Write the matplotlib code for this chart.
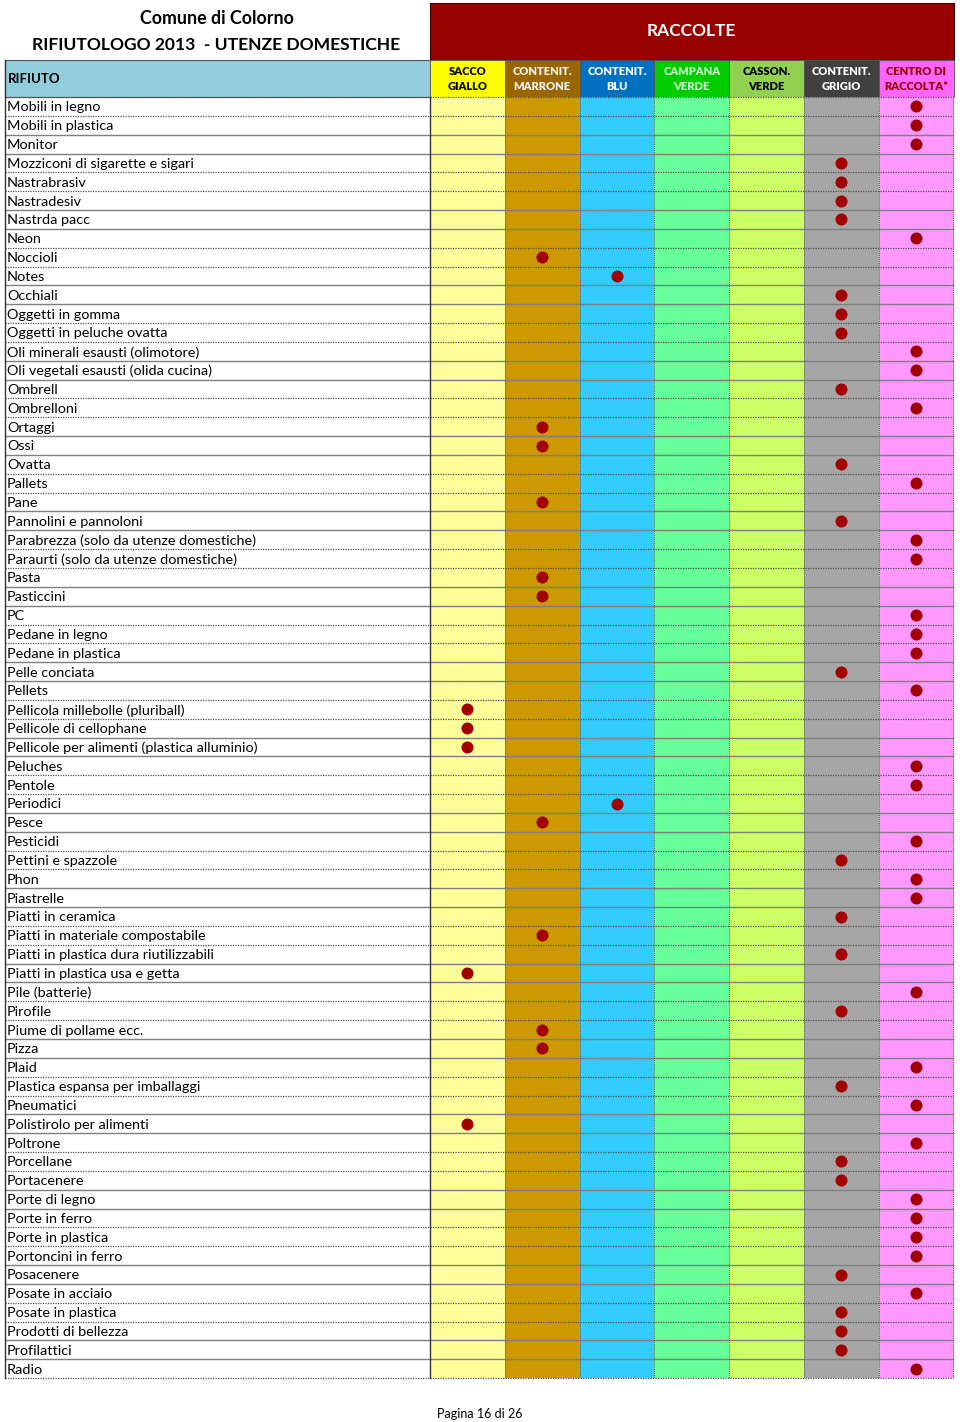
import matplotlib
matplotlib.use("Agg")
import matplotlib.pyplot as plt

plt.rcParams['font.family'] = ['Lato', 'DejaVu Sans']

# colonne raccolta
col_labels = ["SACCO\nGIALLO", "CONTENIT.\nMARRONE", "CONTENIT.\nBLU", "CAMPANA\nVERDE",
              "CASSON.\nVERDE", "CONTENIT.\nGRIGIO", "CENTRO DI\nRACCOLTA*"]
head_colors = ["#FFFF00", "#996600", "#0070C0", "#00CC00", "#92D050", "#404040", "#FF66FF"]
head_text = ["#000000", "#F2F2F2", "#FFFFFF", "#CCFFCC", "#000000", "#FFFFFF", "#990000"]
body_colors = ["#FFFF99", "#CC9900", "#33CCFF", "#66FF99", "#CCFF66", "#A6A6A6", "#FF99FF"]

# rifiuti e colonna di conferimento (0=giallo 1=marrone 2=blu 5=grigio 6=centro)
rifiuti = [
    "Mobili in legno", "Mobili in plastica", "Monitor", "Mozziconi di sigarette e sigari",
    "Nastrabrasiv", "Nastradesiv", "Nastrda pacc", "Neon", "Noccioli", "Notes",
    "Occhiali", "Oggetti in gomma", "Oggetti in peluche ovatta",
    "Oli minerali esausti (olimotore)", "Oli vegetali esausti (olida cucina)",
    "Ombrell", "Ombrelloni", "Ortaggi", "Ossi", "Ovatta", "Pallets", "Pane",
    "Pannolini e pannoloni", "Parabrezza (solo da utenze domestiche)",
    "Paraurti (solo da utenze domestiche)", "Pasta", "Pasticcini", "PC",
    "Pedane in legno", "Pedane in plastica", "Pelle conciata", "Pellets",
    "Pellicola millebolle (pluriball)", "Pellicole di cellophane",
    "Pellicole per alimenti (plastica alluminio)", "Peluches", "Pentole",
    "Periodici", "Pesce", "Pesticidi", "Pettini e spazzole", "Phon", "Piastrelle",
    "Piatti in ceramica", "Piatti in materiale compostabile",
    "Piatti in plastica dura riutilizzabili", "Piatti in plastica usa e getta",
    "Pile (batterie)", "Pirofile", "Piume di pollame ecc.", "Pizza", "Plaid",
    "Plastica espansa per imballaggi", "Pneumatici", "Polistirolo per alimenti",
    "Poltrone", "Porcellane", "Portacenere", "Porte di legno", "Porte in ferro",
    "Porte in plastica", "Portoncini in ferro", "Posacenere", "Posate in acciaio",
    "Posate in plastica", "Prodotti di bellezza", "Profilattici", "Radio",
]
raccolta = [
    6, 6, 6, 5, 5, 5, 5, 6, 1, 2,
    5, 5, 5, 6, 6, 5, 6, 1, 1, 5, 6, 1,
    5, 6, 6, 1, 1, 6, 6, 6, 5, 6,
    0, 0, 0, 6, 6, 2, 1, 6, 5, 6, 6,
    5, 1, 5, 0, 6, 5, 1, 1, 6,
    5, 6, 0, 6, 5, 5, 6, 6, 6, 6, 5, 6, 5, 5, 5, 6,
]

W, H = 960, 1422
fig = plt.figure(figsize=(W / 100, H / 100), dpi=100)
ax = fig.add_axes([0, 0, 1, 1])
ax.set_xlim(0, W)
ax.set_ylim(H, 0)
ax.axis("off")

x_left, x_lab = 5, 430
col_w = 74.8
top_row, row_h = 97, 18.84
n = len(rifiuti)
bottom = top_row + n * row_h
col_x = [x_lab + i * col_w for i in range(len(col_labels))]
col_c = [x + col_w / 2 for x in col_x]

# titolo
ax.text(217, 18, "Comune di Colorno", ha="center", va="center", fontsize=12.8, fontweight="bold")
ax.text(216, 45, "RIFIUTOLOGO 2013  - UTENZE DOMESTICHE", ha="center", va="center",
        fontsize=12.6, fontweight="bold")

# banner RACCOLTE
ax.bar(x_lab, 57, width=col_w * 7, bottom=3, align="edge", color="#990000",
       edgecolor="#400000", linewidth=0.8)
ax.text(x_lab + col_w * 3.5, 31, "RACCOLTE", ha="center", va="center", color="white",
        fontsize=12.5, fontweight="bold")

# intestazione
ax.bar(x_left, 37, width=x_lab - x_left, bottom=60, align="edge", color="#92CDDC",
       edgecolor="#555555", linewidth=0.8)
ax.text(x_left + 3, 79, "RIFIUTO", ha="left", va="center", fontsize=9.5, fontweight="bold")
ax.bar(col_x, [37] * 7, width=col_w, bottom=60, align="edge", color=head_colors,
       edgecolor="#555555", linewidth=0.6)
for xc, lab, tc in zip(col_c, col_labels, head_text):
    ax.text(xc, 79, lab, ha="center", va="center", fontsize=8, fontweight="heavy",
            color=tc, linespacing=1.5)

# colonne corpo
ax.bar(col_x, [bottom - top_row] * 7, width=col_w, bottom=top_row, align="edge",
       color=body_colors, linewidth=0)

# righe
for k in range(n + 1):
    y = top_row + k * row_h
    if k % 4 in (2, 3):
        ax.plot([x_left, 953], [y, y], color="#7F7F7F", lw=1.0)
    else:
        ax.plot([x_left, 953], [y, y], color="#505050", lw=0.9, ls=(0, (1, 1)))

for x in col_x[1:]:
    ax.plot([x, x], [top_row, bottom], color="#606060", lw=0.7, ls=(0, (1, 1)))
ax.plot([x_left, x_left], [60, bottom], color="#333333", lw=1.0)
ax.plot([x_lab, x_lab], [top_row, bottom], color="#333333", lw=1.0)
ax.plot([953, 953], [top_row, bottom], color="#606060", lw=0.7, ls=(0, (1, 1)))

for i, name in enumerate(rifiuti):
    ax.text(x_left + 2, top_row + (i + 0.55) * row_h, name, ha="left", va="center",
            fontsize=10.4)

ys = [top_row + (i + 0.5) * row_h for i in range(n)]
xs = [col_c[c] for c in raccolta]
ax.scatter(xs, ys, s=75, color="#A00000", zorder=5, linewidths=0)

ax.text(480, 1414, "Pagina 16 di 26", ha="center", va="center", fontsize=9)

fig.savefig("out.png", dpi=100)
